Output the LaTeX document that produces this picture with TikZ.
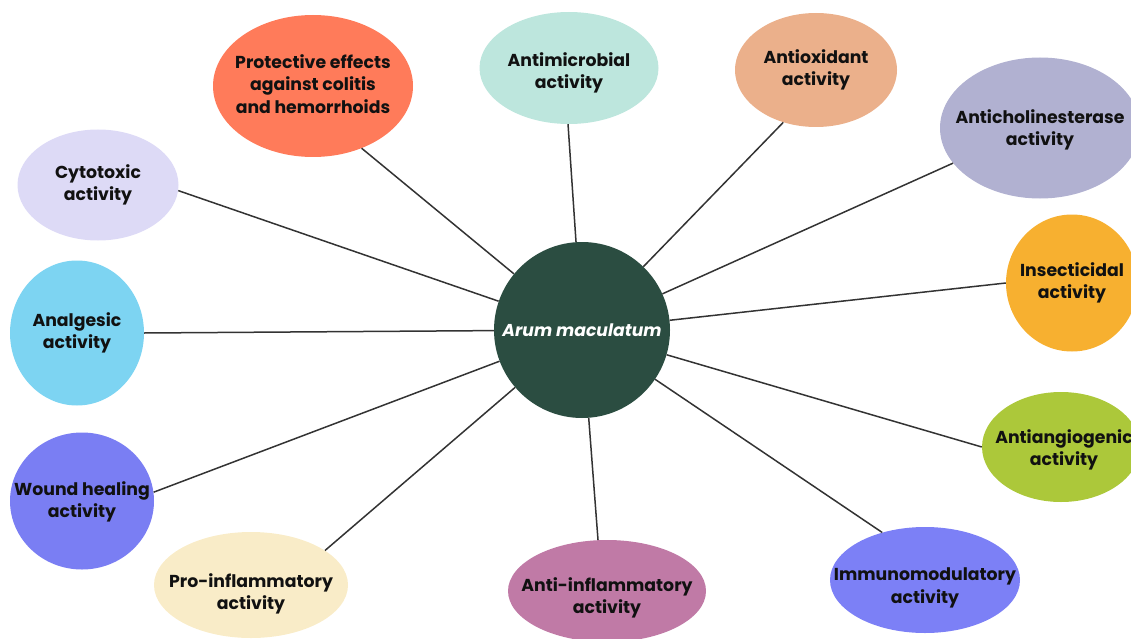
\documentclass[tikz,border=0pt]{standalone}
\usepackage{fontspec}
\setmainfont{Poppins}
\usetikzlibrary{shapes.geometric}
\definecolor{cCenter}{HTML}{2B4D41}
\definecolor{cProt}{HTML}{FF7B5A}
\definecolor{cMicro}{HTML}{BDE6DD}
\definecolor{cOxi}{HTML}{EBB08B}
\definecolor{cChol}{HTML}{B1B1D1}
\definecolor{cInsect}{HTML}{F7B030}
\definecolor{cAngio}{HTML}{ACC83A}
\definecolor{cImmuno}{HTML}{7C80F6}
\definecolor{cAntiInf}{HTML}{C07AA6}
\definecolor{cProInf}{HTML}{F9ECC8}
\definecolor{cWound}{HTML}{7A7EF3}
\definecolor{cAnalg}{HTML}{7DD4F2}
\definecolor{cCyto}{HTML}{DDDAF6}
\definecolor{cText}{HTML}{111111}
\definecolor{cLine}{HTML}{333333}
\tikzset{
  bubble/.style={ellipse, draw=none, inner sep=0pt},
  btext/.style={align=center, text=cText, inner sep=0pt,
    font=\fontsize{17.3}{22.5}\selectfont\bfseries},
  link/.style={draw=cLine, line width=1.5pt},
}
\begin{document}
\begin{tikzpicture}[x=1pt,y=-1pt]
\useasboundingbox (0,0) rectangle (1131,639);
\clip (0,0) rectangle (1131,639);
\node[circle, fill=cCenter, minimum size=176pt, inner sep=0pt, text=white,
  font=\fontsize{17.2}{22}\selectfont\bfseries\itshape] (c) at (582,330) {Arum maculatum};
\node[bubble, fill=cProt, minimum width=200pt, minimum height=142pt,
  label={[btext, yshift=2pt]center:Protective effects\\against colitis\\and hemorrhoids}] (prot) at (313,86) {};
\node[bubble, fill=cMicro, minimum width=179pt, minimum height=112pt,
  label={[btext, yshift=-5pt]center:Antimicrobial\\activity}] (micro) at (569,68) {};
\node[bubble, fill=cOxi, minimum width=162pt, minimum height=114pt,
  label={[btext]center:Antioxidant\\activity}] (oxi) at (816,70) {};
\node[bubble, fill=cChol, minimum width=200pt, minimum height=141pt,
  label={[btext, yshift=-2pt]center:Anticholinesterase\\activity}] (chol) at (1040,128) {};
\node[bubble, fill=cInsect, minimum width=132pt, minimum height=137pt,
  label={[btext]center:Insecticidal\\activity}] (insect) at (1072,283) {};
\node[bubble, fill=cAngio, minimum width=158pt, minimum height=110pt,
  label={[btext, yshift=-3pt, xshift=3pt]center:Antiangiogenic\\activity}] (angio) at (1061,447) {};
\node[bubble, fill=cImmuno, minimum width=190pt, minimum height=106pt,
  label={[btext, yshift=-8pt]center:Immunomodulatory\\activity}] (immuno) at (925,580) {};
\node[bubble, fill=cAntiInf, minimum width=198pt, minimum height=102pt,
  label={[btext, yshift=-7pt]center:Anti-inflammatory\\activity}] (antiinf) at (607,591) {};
\node[bubble, fill=cProInf, minimum width=194pt, minimum height=106pt,
  label={[btext, yshift=-9pt]center:Pro-inflammatory\\activity}] (proinf) at (251,585) {};
\node[bubble, fill=cWound, minimum width=144pt, minimum height=137pt,
  label={[btext, yshift=-1pt]center:Wound healing\\activity}] (wound) at (82,501) {};
\node[bubble, fill=cAnalg, minimum width=134pt, minimum height=145pt,
  label={[btext]center:Analgesic\\activity}] (analg) at (77,333) {};
\node[bubble, fill=cCyto, minimum width=161pt, minimum height=111pt,
  label={[btext]center:Cytotoxic\\activity}] (cyto) at (98,185) {};
\draw[link] (c) -- (prot.-52);
\draw[link] (c) -- (micro.-91);
\draw[link] (c) -- (oxi.-122);
\draw[link] (c) -- (chol.-158);
\draw[link] (c) -- (insect.180);
\draw[link] (c) -- (angio.180);
\draw[link] (c) -- (immuno.132);
\draw[link] (c) -- (antiinf.100);
\draw[link] (c) -- (proinf.25);
\draw[link] (c) -- (wound.7);
\draw[link] (c) -- (analg.0);
\draw[link] (c) -- (cyto.-4);
\end{tikzpicture}
\end{document}
